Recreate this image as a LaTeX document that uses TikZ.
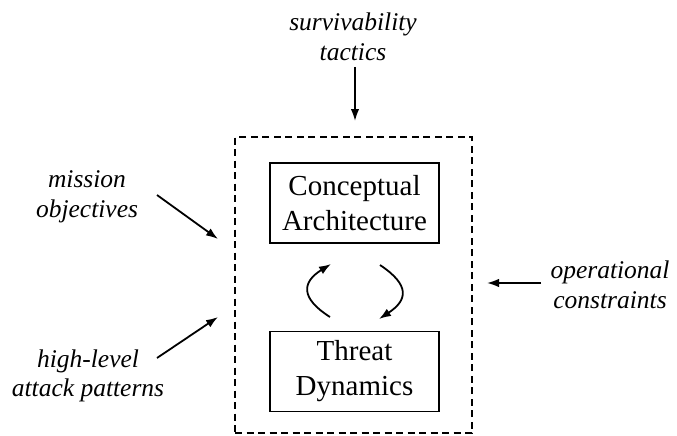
\documentclass[tikz,border=0pt]{standalone}
\usepackage{fontspec}
\setmainfont{Liberation Serif}
\usetikzlibrary{arrows.meta}
\begin{document}
\begin{tikzpicture}[x=1pt,y=-1pt,
  lbl/.style={align=center,font=\fontsize{25.5}{29.5}\selectfont\itshape,inner sep=0pt},
  boxnode/.style={draw,line width=1.6pt,minimum width=169pt,minimum height=80pt,align=center,inner sep=0pt,font=\fontsize{29}{35}\selectfont},
  frame/.style={draw,line width=2.6pt,dash pattern=on 7pt off 4.5pt,minimum width=237pt,minimum height=296pt,inner sep=0pt},
  arr/.style={line width=1.8pt,-{Latex[length=12pt,width=8.5pt]}}]
\useasboundingbox (0,0) rectangle (677,436);
\node[frame] (fr) at (353.5,285) {};
\node[boxnode] (ca) at (354.5,203) {Conceptual\\Architecture};
\node[boxnode] (td) at (354.5,371.5) {Threat\\Dynamics};
\node[lbl] (st) at (353,37) {survivability\\tactics};
\node[lbl] (mo) at (87,197) {mission\\objectives};
\node[lbl] (hl) at (88,376) {high-level\\attack patterns};
\node[lbl] (oc) at (610,285) {operational\\constraints};
\coordinate (stE) at (355,121);
\coordinate (moS) at (157,195);
\coordinate (moE) at (218,239);
\coordinate (hlS) at (157,358);
\coordinate (hlE) at (218,317);
\coordinate (ocS) at (541,283);
\coordinate (ocE) at (487,283);
\coordinate (l1) at (330,317);
\coordinate (l2) at (331,264);
\coordinate (r1) at (380,265);
\coordinate (r2) at (379,319);
\draw[arr] (st.south -| stE) ++(0,6) -- (stE);
\draw[arr] (moS) -- (moE);
\draw[arr] (hlS) -- (hlE);
\draw[arr] (ocS) -- (ocE);
\draw[arr] (l1) .. controls (300,298) and (302,282) .. (l2);
\draw[arr] (r1) .. controls (410,285) and (408,300) .. (r2);
\end{tikzpicture}
\end{document}
